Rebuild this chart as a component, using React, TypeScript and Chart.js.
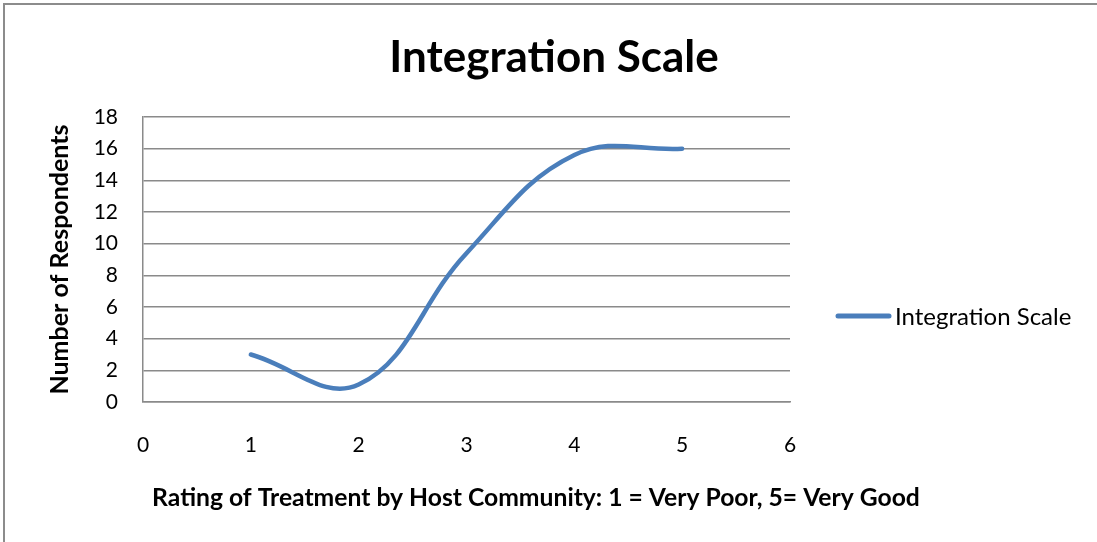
import React, { useEffect, useRef } from 'react';
import { Chart, registerables } from 'chart.js';

Chart.register(...registerables);

const chartTitle = 'Integration Scale';
const seriesName = 'Integration Scale';
const xAxisTitle = 'Rating of Treatment by Host Community: 1 = Very Poor, 5= Very Good';
const yAxisTitle = 'Number of Respondents';

const ratings = [1, 2, 3, 4, 5];
const respondents = [3, 1.1, 9.4, 15.6, 16];

const xTicks = [0, 1, 2, 3, 4, 5, 6];
const yTicks = [0, 2, 4, 6, 8, 10, 12, 14, 16, 18];

const FONT = 'Lato, "Open Sans", "DejaVu Sans", sans-serif';
const LINE_COLOR = '#4a7ebb';
const GRID_COLOR = '#8a8a8a';
const W = 1097;
const H = 542;

const decor = {
  id: 'decor',
  beforeDraw(chart: any) {
    const ctx = chart.ctx;
    ctx.save();
    ctx.fillStyle = '#ffffff';
    ctx.fillRect(0, 0, chart.width, chart.height);
    ctx.strokeStyle = '#8c8c8c';
    ctx.lineWidth = 2;
    ctx.beginPath();
    ctx.moveTo(4, chart.height);
    ctx.lineTo(4, 4);
    ctx.lineTo(chart.width, 4);
    ctx.stroke();
    ctx.restore();
  },
  afterDraw(chart: any) {
    const ctx = chart.ctx;
    ctx.save();
    ctx.fillStyle = '#000000';
    ctx.textAlign = 'center';
    ctx.textBaseline = 'alphabetic';
    ctx.font = `bold 44px ${FONT}`;
    ctx.fillText(chartTitle, 554, 72);

    ctx.font = `bold 24.7px ${FONT}`;
    ctx.fillText(xAxisTitle, 536, 506);

    // legend
    ctx.strokeStyle = LINE_COLOR;
    ctx.lineWidth = 5;
    ctx.lineCap = 'round';
    ctx.beginPath();
    ctx.moveTo(838, 316);
    ctx.lineTo(889, 316);
    ctx.stroke();
    ctx.textAlign = 'left';
    ctx.textBaseline = 'middle';
    ctx.font = `24px ${FONT}`;
    ctx.fillText(seriesName, 895, 317);
    ctx.restore();
  },
};

export default function App() {
  const canvasRef = useRef<HTMLCanvasElement | null>(null);

  useEffect(() => {
    document.body.style.margin = '0';
    const canvas = canvasRef.current;
    if (!canvas) return;
    const chart = new Chart(canvas, {
      type: 'line',
      data: {
        datasets: [
          {
            label: seriesName,
            data: ratings.map((x, i) => ({ x, y: respondents[i] })),
            borderColor: LINE_COLOR,
            backgroundColor: LINE_COLOR,
            borderWidth: 4.5,
            borderCapStyle: 'round',
            borderJoinStyle: 'round',
            pointRadius: 0,
            pointHoverRadius: 0,
            tension: 0.4,
            fill: false,
          },
        ],
      },
      options: {
        responsive: false,
        animation: false,
        events: [],
        layout: { padding: { top: 117, right: 307, bottom: 0, left: 0 } },
        plugins: {
          legend: { display: false },
          title: { display: false },
          tooltip: { enabled: false },
        },
        scales: {
          x: {
            type: 'linear',
            min: xTicks[0],
            max: xTicks[xTicks.length - 1],
            afterFit: (s: any) => {
              s.height = 140;
            },
            afterBuildTicks: (s: any) => {
              s.ticks = xTicks.map((v) => ({ value: v }));
            },
            grid: { display: false, drawTicks: false },
            border: { display: true, color: GRID_COLOR, width: 1.5 },
            ticks: {
              padding: 31,
              color: '#000000',
              font: { family: FONT, size: 21 },
              maxRotation: 0,
            },
          },
          y: {
            type: 'linear',
            min: yTicks[0],
            max: yTicks[yTicks.length - 1],
            afterFit: (s: any) => {
              s.width = 143;
            },
            afterBuildTicks: (s: any) => {
              s.ticks = yTicks.map((v) => ({ value: v }));
            },
            grid: { display: true, drawTicks: false, color: GRID_COLOR, lineWidth: 1.5 },
            border: { display: true, color: GRID_COLOR, width: 1.5 },
            ticks: {
              padding: 25,
              color: '#000000',
              font: { family: FONT, size: 21 },
            },
            title: {
              display: true,
              text: yAxisTitle,
              color: '#000000',
              font: { family: FONT, size: 25, weight: 'bold' },
              padding: { top: 45, bottom: 0 },
            },
          },
        },
      },
      plugins: [decor],
    });
    return () => chart.destroy();
  }, []);

  return (
    <div style={{ position: 'fixed', left: 0, top: 0, width: W, height: H, background: '#fff' }}>
      <canvas ref={canvasRef} width={W} height={H} style={{ width: W, height: H, display: 'block' }} />
    </div>
  );
}
